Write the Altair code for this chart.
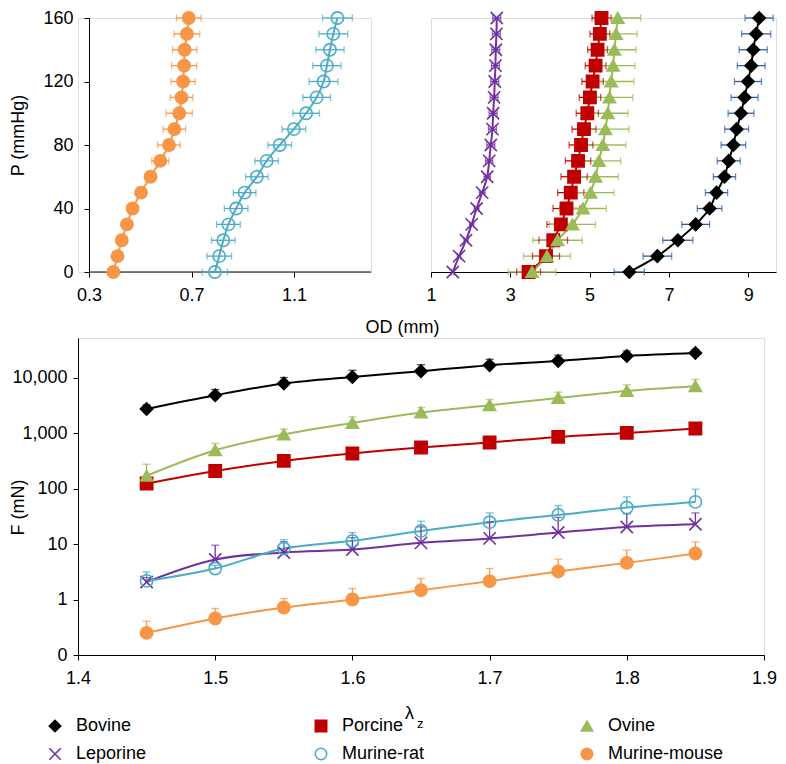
import altair as alt
import pandas as pd

# ---------------- data ----------------
species = ["Bovine", "Porcine", "Ovine", "Leporine", "Murine-rat", "Murine-mouse"]
stroke_cols = ["#000000", "#C00000", "#9BBB59", "#7030A0", "#4BACC6", "#F79646"]
fill_cols = ["#000000", "#C00000", "#9BBB59", "transparent", "transparent", "#F79646"]
shapes = ["diamond", "square", "triangle-up", "M-1,-1L1,1M-1,1L1,-1", "circle", "circle"]
err_cols_top = ["#2E5E9A", "#C00000", "#9BBB59", "#7030A0", "#4BACC6", "#F79646"]
err_cols_bot = ["#000000", "#C00000", "#9BBB59", "#7030A0", "#4BACC6", "#F79646"]

P = [0, 10, 20, 30, 40, 50, 60, 70, 80, 90, 100, 110, 120, 130, 140, 150, 160]

mouse_od = [0.395, 0.411, 0.428, 0.448, 0.470, 0.503, 0.540, 0.578, 0.612, 0.633, 0.652, 0.661, 0.667, 0.671, 0.673, 0.682, 0.689]
mouse_err = [0.015, 0.015, 0.015, 0.015, 0.015, 0.018, 0.02, 0.033, 0.044, 0.044, 0.051, 0.044, 0.047, 0.049, 0.047, 0.05, 0.048]
rat_od = [0.791, 0.808, 0.824, 0.844, 0.874, 0.907, 0.955, 0.993, 1.044, 1.099, 1.147, 1.188, 1.215, 1.228, 1.240, 1.253, 1.269]
rat_err = [0.049, 0.048, 0.046, 0.046, 0.046, 0.044, 0.044, 0.046, 0.046, 0.046, 0.052, 0.054, 0.056, 0.055, 0.055, 0.056, 0.058]

lep_od = [1.55, 1.708, 1.883, 2.025, 2.15, 2.29, 2.417, 2.467, 2.508, 2.55, 2.567, 2.592, 2.608, 2.625, 2.633, 2.65, 2.658]
lep_err = [0.03, 0.04, 0.05, 0.05, 0.06, 0.07, 0.08, 0.09, 0.1, 0.1, 0.1, 0.1, 0.1, 0.1, 0.1, 0.1, 0.1]
por_od = [3.46, 3.9, 4.083, 4.275, 4.417, 4.525, 4.608, 4.708, 4.783, 4.858, 4.942, 5.008, 5.075, 5.15, 5.2, 5.258, 5.3]
por_err = [0.3, 0.34, 0.36, 0.35, 0.34, 0.33, 0.33, 0.32, 0.3, 0.3, 0.28, 0.27, 0.27, 0.26, 0.25, 0.25, 0.24]
ovi_od = [3.55, 3.925, 4.192, 4.567, 4.833, 5.025, 5.15, 5.233, 5.333, 5.4, 5.458, 5.5, 5.542, 5.592, 5.625, 5.667, 5.708]
ovi_err = [0.6, 0.59, 0.62, 0.58, 0.59, 0.59, 0.57, 0.55, 0.58, 0.59, 0.51, 0.59, 0.57, 0.55, 0.54, 0.53, 0.58]
bov_od = [6.0, 6.708, 7.225, 7.675, 8.025, 8.2, 8.4, 8.508, 8.625, 8.708, 8.817, 8.908, 8.992, 9.075, 9.125, 9.2, 9.275]
bov_err = [0.38, 0.36, 0.38, 0.35, 0.31, 0.28, 0.28, 0.29, 0.31, 0.3, 0.325, 0.34, 0.34, 0.35, 0.354, 0.367, 0.354]

lam = [1.45, 1.5, 1.55, 1.6, 1.65, 1.7, 1.75, 1.8, 1.85]
F_bov = [2718, 4800, 7800, 10250, 13000, 16700, 19900, 24500, 27700]
Fe_bov = [480, 1280, 2200, 3250, 4000, 4600, 5400, 5600, 4200]
F_por = [123, 207, 314, 427, 548, 675, 851, 1004, 1205]
Fe_por = [15, 55, 45, 45, 45, 50, 50, 50, 60]
F_ovi = [170, 490, 940, 1520, 2340, 3170, 4280, 5740, 6970]
Fe_ovi = [104, 157, 230, 430, 540, 820, 1150, 1620, 2230]
F_lep = [2.07, 5.26, 7.03, 7.96, 10.5, 12.6, 16.1, 20.3, 22.7]
Fe_lep = [0.4, 4.24, 4.0, 5.0, 9.8, 12.4, 14.0, 14.7, 13.6]
F_rat = [2.16, 3.62, 8.3, 11.4, 17.2, 24.7, 33.4, 45.5, 57.4]
Fe_rat = [0.98, 0.5, 3.7, 4.7, 8.6, 11.6, 16.0, 25.0, 39.6]
F_mou = [0.25, 0.455, 0.718, 1.0, 1.47, 2.14, 3.2, 4.57, 6.74]
Fe_mou = [0.156, 0.235, 0.322, 0.58, 0.92, 1.48, 2.12, 3.16, 4.16]

# ---------------- tables ----------------
def top_frame(items):
    rows = []
    for name, od, err in items:
        i = species.index(name)
        for p, o, e in zip(P, od, err):
            rows.append(dict(species=name, P=p, OD=o, lo=o - e, hi=o + e,
                             lc=stroke_cols[i], ec=err_cols_top[i]))
    return pd.DataFrame(rows)

left_df = top_frame([("Murine-rat", rat_od, rat_err), ("Murine-mouse", mouse_od, mouse_err)])
right_df = top_frame([("Bovine", bov_od, bov_err), ("Porcine", por_od, por_err),
                      ("Ovine", ovi_od, ovi_err), ("Leporine", lep_od, lep_err)])

brows = []
for name, F, Fe in [("Bovine", F_bov, Fe_bov), ("Porcine", F_por, Fe_por), ("Ovine", F_ovi, Fe_ovi),
                    ("Leporine", F_lep, Fe_lep), ("Murine-rat", F_rat, Fe_rat),
                    ("Murine-mouse", F_mou, Fe_mou)]:
    i = species.index(name)
    for l, f, e in zip(lam, F, Fe):
        brows.append(dict(species=name, lam=l, F=f, top=f + e, lc=stroke_cols[i], ec=err_cols_bot[i]))
bot_df = pd.DataFrame(brows)

FONT = "Liberation Sans"
FS = 18

legend = alt.Legend(title=None, orient="none", legendX=-32, legendY=379, columns=3,
                    direction="horizontal", gridAlign="all", columnPadding=120, rowPadding=10,
                    symbolSize=130, symbolStrokeWidth=1.6, labelFontSize=FS, labelFont=FONT,
                    labelColor="black", labelOffset=12, padding=0)


def enc_species(lg):
    return dict(
        stroke=alt.Stroke("species:N", scale=alt.Scale(domain=species, range=stroke_cols), legend=lg),
        fill=alt.Fill("species:N", scale=alt.Scale(domain=species, range=fill_cols), legend=lg),
        shape=alt.Shape("species:N", scale=alt.Scale(domain=species, range=shapes), legend=lg),
    )

axis_base = dict(labelFont=FONT, labelFontSize=FS, labelColor="black", titleFont=FONT,
                 titleFontSize=FS, titleFontWeight="normal", titleColor="black",
                 domainColor="black", tickColor="black", tickSize=5, grid=False,
                 labelFlush=False)

H_TOP = 254
yscale_top = alt.Scale(domain=[0, 160], nice=False, zero=False)


def top_panel(df, xdom, xvals, xfmt, xaxis_extra, yaxis, width, base_rule=None):
    xs = alt.Scale(domain=xdom, nice=False, zero=False)
    xax = alt.Axis(values=xvals, format=xfmt, labelPadding=9, **xaxis_extra, **axis_base)
    base = alt.Chart(df)
    line = base.mark_line(interpolate="catmull-rom", strokeWidth=2).encode(
        x=alt.X("OD:Q", scale=xs, axis=xax),
        y=alt.Y("P:Q", scale=yscale_top, axis=yaxis),
        detail="species:N", order="P:Q",
        color=alt.Color("lc:N", scale=None))
    rule = base.mark_rule(strokeWidth=1.3).encode(
        x="lo:Q", x2="hi:Q", y="P:Q", color=alt.Color("ec:N", scale=None))
    cap1 = base.mark_tick(orient="vertical", size=7, thickness=1.3).encode(
        x="lo:Q", y="P:Q", color=alt.Color("ec:N", scale=None))
    cap2 = base.mark_tick(orient="vertical", size=7, thickness=1.3).encode(
        x="hi:Q", y="P:Q", color=alt.Color("ec:N", scale=None))
    pts = base.mark_point(filled=False, size=150, strokeWidth=1.6, opacity=1, fillOpacity=1).encode(
        x="OD:Q", y="P:Q", **enc_species(None))
    layers = [line, rule, cap1, cap2, pts]
    if base_rule is not None:
        layers.insert(0, base_rule)
    return alt.layer(*layers).properties(width=width, height=H_TOP)


# left panel: x axis line drawn from 0.3 to the end (y axis sits at 0.3)
left_xmin = 0.2571
left_axis_line = alt.Chart(pd.DataFrame({"a": [0]})).mark_rule(color="black", strokeWidth=1).encode(
    x=alt.datum(0.3), x2=alt.datum(1.4), y=alt.datum(0))
left_yaxis = alt.Axis(values=[0, 40, 80, 120, 160], title="P (mmHg)", labelPadding=11, offset=-11,
                      titleX=-71, titleY=117, titleBaseline="middle", titleAngle=-90,
                      titleAlign="center", **axis_base)
left = top_panel(left_df, [left_xmin, 1.4], [0.3, 0.7, 1.1], ".1f",
                 dict(title="OD (mm)", titleX=324, titleY=55, titleBaseline="middle",
                      titleAlign="center", domain=False),
                 left_yaxis, 293, base_rule=left_axis_line)
right = top_panel(right_df, [1, 9.7], [1, 3, 5, 7, 9], "d", dict(title=None), None, 345)

top = alt.hconcat(left, right, spacing=60, bounds="flush").resolve_scale(
    stroke="independent", fill="independent", shape="independent")

# bottom panel
xs_b = alt.Scale(domain=[1.4, 1.9], nice=False, zero=False)
ys_b = alt.Scale(type="log", domain=[0.1, 51500], nice=False)
bx_axis = alt.Axis(values=[1.4, 1.5, 1.6, 1.7, 1.8, 1.9], format=".1f", title="λ",
                   labelPadding=9, titleX=331, titleY=58, titleBaseline="middle",
                   titleAlign="center", **axis_base)
by_axis = alt.Axis(values=[0.1, 1, 10, 100, 1000, 10000], title="F (mN)", labelPadding=6,
                   labelExpr="datum.value < 1 ? '0' : format(datum.value, ',')",
                   titleX=-60, titleY=169, titleBaseline="middle", titleAngle=-90,
                   titleAlign="center", **axis_base)
bb = alt.Chart(bot_df)
bline = bb.mark_line(interpolate="catmull-rom", strokeWidth=2).encode(
    x=alt.X("lam:Q", scale=xs_b, axis=bx_axis),
    y=alt.Y("F:Q", scale=ys_b, axis=by_axis),
    detail="species:N", order="lam:Q", color=alt.Color("lc:N", scale=None))
brule = bb.mark_rule(strokeWidth=1.3).encode(
    x="lam:Q", y="F:Q", y2="top:Q", color=alt.Color("ec:N", scale=None))
bcap = bb.mark_tick(orient="horizontal", size=8, thickness=1.3).encode(
    x="lam:Q", y="top:Q", color=alt.Color("ec:N", scale=None))
bpts = bb.mark_point(filled=False, size=150, strokeWidth=1.6, opacity=1, fillOpacity=1).encode(
    x="lam:Q", y="F:Q", **enc_species(legend))
zsub = alt.Chart(pd.DataFrame({"t": ["z"]})).mark_text(
    font=FONT, fontSize=13, align="left", baseline="middle", color="black").encode(
    x=alt.value(339), y=alt.value(386), text="t:N")
bottom = alt.layer(bline, brule, bcap, bpts, zsub).properties(width=686, height=317)

chart = alt.vconcat(top, bottom, spacing=0).resolve_scale(
    stroke="independent", fill="independent", shape="independent"
).properties(
    padding={"left": 0, "top": 0, "right": 0, "bottom": 0}
).configure_view(stroke=None).configure(background="white")

chart.save("out.html", embed_options={"renderer": "svg", "actions": False})
